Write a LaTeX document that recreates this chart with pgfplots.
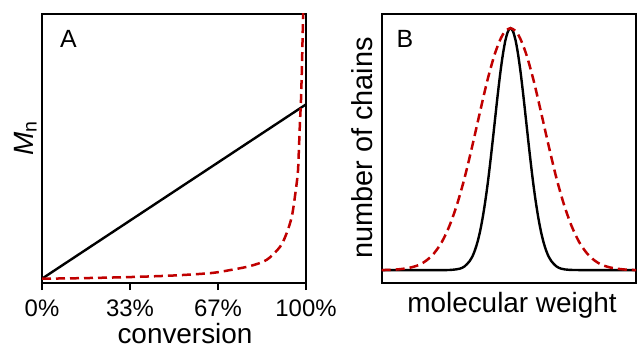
\documentclass[border=0pt]{standalone}
\usepackage{pgfplots}
\pgfplotsset{compat=1.18}
\usepackage{fontspec}
\setmainfont{Liberation Sans}
\definecolor{dred}{RGB}{192,0,0}
\begin{document}
\begin{tikzpicture}[x=1bp,y=1bp]
\useasboundingbox (0,0) rectangle (637,347);
\pgfplotsset{
  panel/.style={
    anchor=south west, scale only axis,
    height=269bp,
    xmin=0, xmax=100, ymin=0, ymax=100,
    axis line style={line width=2.2bp},
    ytick=\empty,
  },
}
\begin{axis}[panel, at={(42bp,64bp)}, width=264bp,
  xtick={0,33.33,66.67,100},
  xticklabels={0\%,33\%,67\%,100\%},
  xtick pos=bottom, tick align=outside,
  major tick length=7bp,
  every tick/.style={black, line width=2bp},
  xticklabel style={font=\fontsize{24}{28}\selectfont, yshift=-6bp},
]
\addplot[black, line width=2.4bp] coordinates {(0,1.6) (100,66.4)};
\addplot[dred, line width=2.5bp, dash pattern=on 9bp off 5bp, smooth] coordinates {
(0,1.6) (15,1.8) (33,2.2) (50,2.8) (64,3.7) (71.2,4.8) (78.8,6.3) (85.1,8.6)
(90.2,13.5) (92.7,18.6) (94.6,24.6) (95.8,32.1) (96.9,40.9) (97.3,49.4)
(97.7,59.5) (98.1,68) (98.5,82) (98.9,100) (99.2,115)};
\end{axis}
\begin{axis}[panel, at={(381.7bp,64bp)}, width=254.5bp, xtick=\empty]
\addplot[black, line width=2.4bp, smooth] coordinates {
(0,4.8) (20,4.8) (25,4.8) (27.6,4.9) (30.6,5.3) (32.6,6.2) (34.6,8.2) (35.6,9.8)
(36.6,12.1) (37.6,15.1) (38.6,19.0) (39.6,23.9) (40.6,29.8) (41.6,36.6)
(42.6,44.4) (43.6,52.8) (44.6,61.5) (45.6,70.1) (46.6,78.1) (47.6,84.9)
(48.6,90.2) (49.6,93.5) (50.6,94.7) (51.6,93.5) (52.6,90.2) (53.6,84.9)
(54.6,78.1) (55.6,70.1) (56.6,61.5) (57.6,52.8) (58.6,44.4) (59.6,36.6)
(60.6,29.8) (61.6,23.9) (62.6,19.0) (63.6,15.1) (64.6,12.1) (65.6,9.8)
(66.6,8.2) (68.6,6.2) (70.6,5.3) (73.6,4.9) (80,4.8) (100,4.8)};
\addplot[dred, line width=2.5bp, dash pattern=on 9bp off 5bp, smooth] coordinates {
(0,4.8) (5.6,5.0) (10.6,5.6) (14.6,6.7) (17.6,8.4) (20.6,11.1) (23.6,15.2)
(26.6,21.2) (29.6,29.2) (32.6,39.2) (35.6,51.0) (38.6,63.5) (41.6,75.6)
(44.6,85.6) (47.6,92.4) (50.6,94.7) (53.6,92.4) (56.6,85.6) (59.6,75.6)
(62.6,63.5) (65.6,51.0) (68.6,39.2) (71.6,29.2) (74.6,21.2) (77.6,15.2)
(80.6,11.1) (83.6,8.4) (86.6,6.7) (90.6,5.6) (95.6,5.0) (100,4.8)};
\end{axis}
\node[font=\fontsize{28}{34}\selectfont, anchor=base, inner sep=0pt] at (185,4) {conversion};
\node[font=\fontsize{28}{34}\selectfont, anchor=base] at (512,35) {molecular weight};
\node[font=\fontsize{29}{34}\selectfont, anchor=base, rotate=90] at (372,199) {number of chains};
\node[font=\fontsize{28}{34}\selectfont, anchor=base, rotate=90] at (33,209) {\textit{M}\textsubscript{n}};
\node[font=\fontsize{25}{30}\selectfont, anchor=base] at (68.5,300) {A};
\node[font=\fontsize{25}{30}\selectfont, anchor=base] at (405,300) {B};
\end{tikzpicture}
\end{document}
